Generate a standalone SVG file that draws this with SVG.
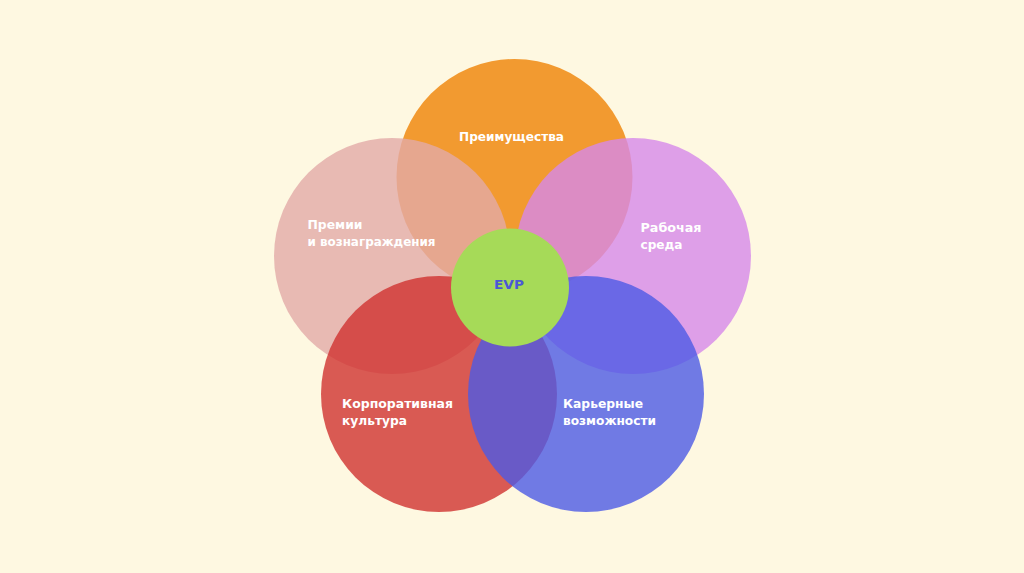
<svg xmlns="http://www.w3.org/2000/svg" width="1024" height="573" viewBox="0 0 1024 573">
<style>
.lbl{font-family:"DejaVu Sans","Liberation Sans",sans-serif;font-weight:bold;font-size:12.5px;fill:#ffffff}
.evp{font-family:"DejaVu Sans","Liberation Sans",sans-serif;font-weight:bold;font-size:13px;fill:#4a58d6}
</style>
<rect width="1024" height="573" fill="#fef8e1"/>
<g id="node-benefits">
<circle cx="514.5" cy="177" r="118" fill="#f29a30"/>
</g>
<g id="node-rewards">
<circle cx="392" cy="256" r="118" fill="#e2aaa8" fill-opacity="0.8"/>
</g>
<g id="node-environment">
<circle cx="633" cy="256" r="118" fill="#d688ea" fill-opacity="0.8"/>
</g>
<g id="node-culture">
<circle cx="439" cy="394" r="118" fill="#d0322f" fill-opacity="0.8"/>
</g>
<g id="node-career">
<circle cx="586" cy="394" r="118" fill="#4c5ae5" fill-opacity="0.8"/>
</g>
<g id="node-evp">
<circle cx="510" cy="287.5" r="59" fill="#a6da58"/>
<text class="evp" x="494" y="289" textLength="30" lengthAdjust="spacingAndGlyphs">EVP</text>
</g>
<g id="labels">
<text class="lbl" x="459" y="140.5" textLength="105" lengthAdjust="spacingAndGlyphs">Преимущества</text>
<text class="lbl" x="307.5" y="228.5" textLength="55" lengthAdjust="spacingAndGlyphs">Премии</text>
<text class="lbl" x="307.5" y="245.5" textLength="128" lengthAdjust="spacingAndGlyphs">и вознаграждения</text>
<text class="lbl" x="640.5" y="232" textLength="61" lengthAdjust="spacingAndGlyphs">Рабочая</text>
<text class="lbl" x="640.5" y="249" textLength="42" lengthAdjust="spacingAndGlyphs">среда</text>
<text class="lbl" x="342" y="408" textLength="111" lengthAdjust="spacingAndGlyphs">Корпоративная</text>
<text class="lbl" x="342" y="425" textLength="65" lengthAdjust="spacingAndGlyphs">культура</text>
<text class="lbl" x="563" y="408" textLength="80" lengthAdjust="spacingAndGlyphs">Карьерные</text>
<text class="lbl" x="563" y="425" textLength="93" lengthAdjust="spacingAndGlyphs">возможности</text>
</g>
<g id="connectors"></g>
</svg>
